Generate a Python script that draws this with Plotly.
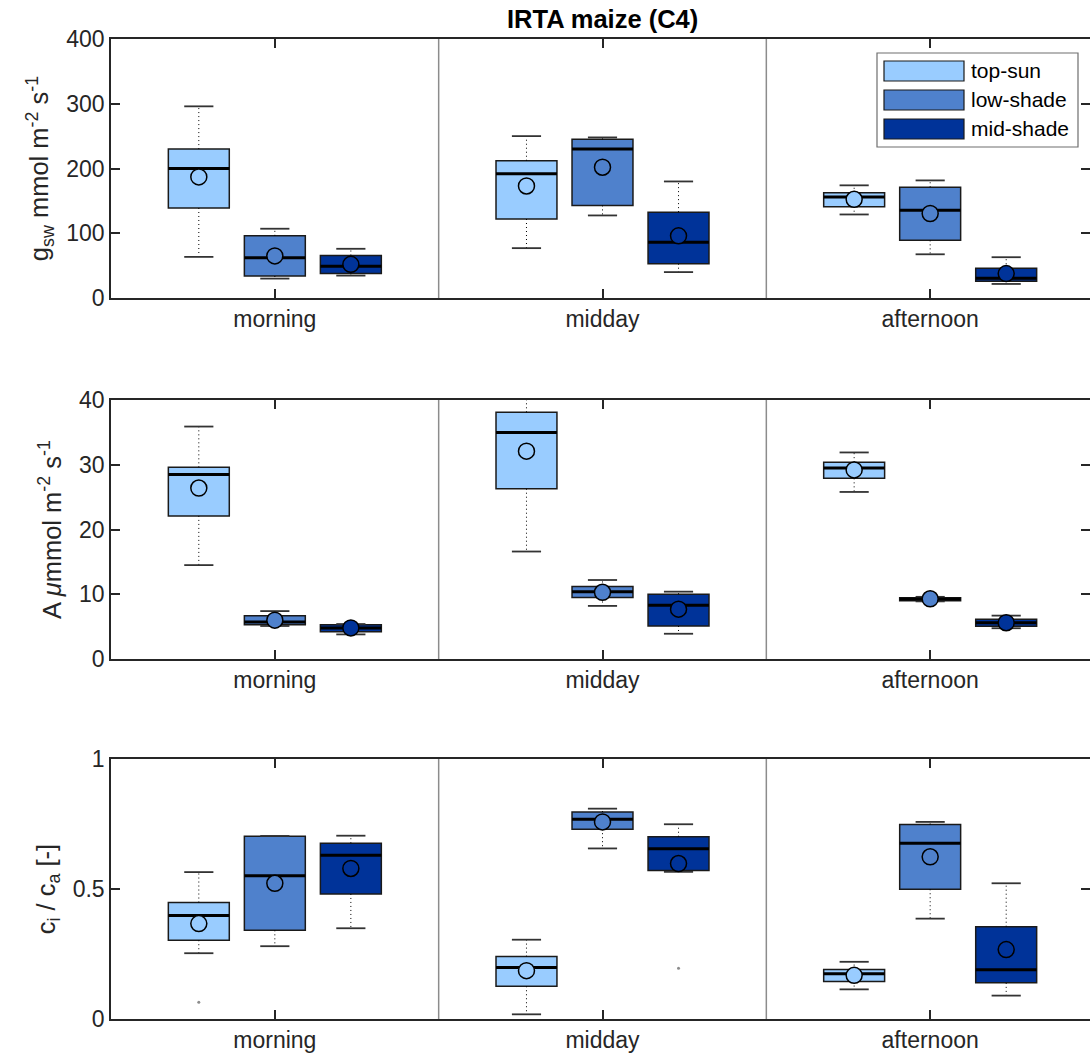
import plotly.graph_objects as go
from plotly.subplots import make_subplots

# ---------------------------------------------------------------- data
groups = ["morning", "midday", "afternoon"]
series = ["top-sun", "low-shade", "mid-shade"]
colors = ["#99CCFF", "#4F81CC", "#003399"]

# box statistics, indexed [series][time of day]
gsw_lo = [[63.5, 77, 129], [30, 127.5, 67.5], [34.6, 40, 21.7]]
gsw_q1 = [[139, 122, 141], [34, 143, 89], [38, 53, 26]]
gsw_med = [[200, 192, 156], [62, 230, 135.5], [49, 86, 30.5]]
gsw_q3 = [[230, 212, 162.5], [96, 245, 171], [65.6, 132.6, 46]]
gsw_hi = [[296, 250, 174], [107, 248, 181.6], [76, 180, 63]]
gsw_mean = [[187, 173, 152.5], [65, 202, 130.5], [52, 96, 37.7]]

A_lo = [[14.5, 16.6, 25.8], [5.1, 8.2, 8.9], [3.8, 3.9, 4.75]]
A_q1 = [[22.1, 26.3, 27.9], [5.3, 9.5, 9.0], [4.2, 5.1, 5.05]]
A_med = [[28.5, 35.0, 29.5], [5.7, 10.4, 9.25], [4.8, 8.3, 5.58]]
A_q3 = [[29.6, 38.1, 30.4], [6.67, 11.2, 9.45], [5.3, 10.0, 6.14]]
A_hi = [[35.9, 41.5, 31.9], [7.4, 12.2, 9.6], [5.4, 10.4, 6.7]]
A_mean = [[26.4, 32.1, 29.2], [6.0, 10.3, 9.3], [4.8, 7.7, 5.6]]

ci_lo = [[0.253, 0.018, 0.114], [0.280, 0.656, 0.386], [0.349, 0.566, 0.090]]
ci_q1 = [[0.303, 0.126, 0.144], [0.341, 0.730, 0.499], [0.481, 0.571, 0.139]]
ci_med = [[0.398, 0.198, 0.174], [0.551, 0.768, 0.676], [0.630, 0.655, 0.189]]
ci_q3 = [[0.448, 0.240, 0.190], [0.703, 0.796, 0.748], [0.676, 0.701, 0.355]]
ci_hi = [[0.565, 0.305, 0.220], [0.704, 0.809, 0.758], [0.705, 0.749, 0.522]]
ci_mean = [[0.367, 0.186, 0.168], [0.522, 0.758, 0.624], [0.579, 0.598, 0.267]]

# outliers: (series index, group index, value)
ci_outliers = [(0, 0, 0.064), (2, 1, 0.195)]

y_titles = [
    "g<sub>sw</sub> mmol m<sup>-2</sup> s<sup>-1</sup>",
    "A <i>μ</i>mmol m<sup>-2</sup> s<sup>-1</sup>",
    "c<sub>i</sub> / c<sub>a</sub> [-]",
]
y_ranges = [[0, 400], [0, 40], [0, 1]]
y_ticks = [[0, 100, 200, 300, 400], [0, 10, 20, 30, 40], [0, 0.5, 1]]
y_ticktext = [["0", "100", "200", "300", "400"], ["0", "10", "20", "30", "40"], ["0", "0.5", "1"]]

panels = [
    (gsw_lo, gsw_q1, gsw_med, gsw_q3, gsw_hi, gsw_mean, []),
    (A_lo, A_q1, A_med, A_q3, A_hi, A_mean, []),
    (ci_lo, ci_q1, ci_med, ci_q3, ci_hi, ci_mean, ci_outliers),
]

# ---------------------------------------------------------------- geometry
W, H = 1090, 1057
offset = 0.232      # spacing of the three boxes inside a group
box_w = 0.186
cap_w = 0.089
ink = "#262626"
font_family = "Liberation Sans, Arial, sans-serif"
tick_size = 23
label_size = 25.5

fig = make_subplots(rows=3, cols=1)

for r, (lo, q1, med, q3, hi, mean, outl) in enumerate(panels, start=1):
    for s in range(3):
        xs = [g + 1 + (s - 1) * offset for g in range(3)]

        # dotted whiskers
        wx, wy = [], []
        for i, x in enumerate(xs):
            wx += [x, x, None, x, x, None]
            wy += [q3[s][i], hi[s][i], None, q1[s][i], lo[s][i], None]
        fig.add_trace(go.Scatter(x=wx, y=wy, mode="lines", hoverinfo="skip",
                                 line=dict(color="black", width=1, dash="1px,3px"),
                                 showlegend=False), row=r, col=1)
        # whisker caps
        cx, cy = [], []
        for i, x in enumerate(xs):
            cx += [x - cap_w / 2, x + cap_w / 2, None, x - cap_w / 2, x + cap_w / 2, None]
            cy += [hi[s][i], hi[s][i], None, lo[s][i], lo[s][i], None]
        fig.add_trace(go.Scatter(x=cx, y=cy, mode="lines", hoverinfo="skip",
                                 line=dict(color="#333333", width=1.8),
                                 showlegend=False), row=r, col=1)
        # boxes
        fig.add_trace(go.Box(x=xs, q1=q1[s], median=med[s], q3=q3[s],
                             lowerfence=q1[s], upperfence=q3[s],
                             width=box_w, whiskerwidth=0,
                             fillcolor=colors[s],
                             line=dict(color="#1a1a1a", width=1.5),
                             name=series[s], showlegend=False), row=r, col=1)
        # thick median bars
        mx, my = [], []
        for i, x in enumerate(xs):
            mx += [x - box_w / 2, x + box_w / 2, None]
            my += [med[s][i], med[s][i], None]
        fig.add_trace(go.Scatter(x=mx, y=my, mode="lines", hoverinfo="skip",
                                 line=dict(color="black", width=3),
                                 showlegend=False), row=r, col=1)
        # means
        fig.add_trace(go.Scatter(x=xs, y=mean[s], mode="markers",
                                 marker=dict(symbol="circle", size=16, color=colors[s],
                                             line=dict(color="black", width=1.5)),
                                 showlegend=False), row=r, col=1)

    if outl:
        ox = [g + 1 + (s - 1) * offset for s, g, v in outl]
        oy = [v for s, g, v in outl]
        fig.add_trace(go.Scatter(x=ox, y=oy, mode="markers",
                                 marker=dict(size=3, color="#8c8c8c"),
                                 showlegend=False), row=r, col=1)

# ---------------------------------------------------------------- axes
x_left = 111 / W
x_span = 3.0 * (W - 111) / (1094 - 111)
domains_px = [(39, 298), (400, 659), (759, 1019)]

for r in range(1, 4):
    top_px, bot_px = domains_px[r - 1]
    fig.update_xaxes(row=r, col=1, domain=[x_left, 1.0], range=[0.5, 0.5 + x_span],
                     automargin=False,
                     tickvals=[1, 2, 3], ticktext=groups,
                     ticks="inside", ticklen=9, tickwidth=1.5, tickcolor=ink,
                     showline=True, linecolor=ink, linewidth=1.5, mirror="ticks",
                     showgrid=False, zeroline=False,
                     tickfont=dict(size=tick_size, color=ink, family=font_family))
    fig.update_yaxes(row=r, col=1, domain=[1 - bot_px / H, 1 - top_px / H],
                     automargin=False,
                     range=y_ranges[r - 1], tickvals=y_ticks[r - 1],
                     ticktext=y_ticktext[r - 1],
                     ticks="inside", ticklen=9, tickwidth=1.5, tickcolor=ink,
                     showline=True, linecolor=ink, linewidth=1.5, mirror="ticks",
                     showgrid=False, zeroline=False,
                     title=dict(text=y_titles[r - 1], standoff=10,
                                font=dict(size=label_size, color=ink, family=font_family)),
                     tickfont=dict(size=tick_size, color=ink, family=font_family))
    # separators between times of day
    xref = "x" if r == 1 else f"x{r}"
    yref = "y domain" if r == 1 else f"y{r} domain"
    for xb in (1.5, 2.5):
        fig.add_shape(type="line", xref=xref, yref=yref, x0=xb, x1=xb, y0=0, y1=1,
                      line=dict(color="#8c8c8c", width=1.5), layer="below")

# ---------------------------------------------------------------- legend
def px_x(p):
    return p / W

def px_y(p):
    return 1 - p / H

fig.add_shape(type="rect", xref="paper", yref="paper",
              x0=px_x(877), x1=px_x(1078), y0=px_y(147), y1=px_y(53),
              line=dict(color="#6e6e6e", width=1.2), fillcolor="white")
sw_top = [61, 90, 119]
for s in range(3):
    fig.add_shape(type="rect", xref="paper", yref="paper",
                  x0=px_x(884), x1=px_x(964), y0=px_y(sw_top[s] + 20), y1=px_y(sw_top[s]),
                  line=dict(color="#1a1a1a", width=1.2), fillcolor=colors[s])
    fig.add_annotation(xref="paper", yref="paper", x=px_x(969), y=px_y(sw_top[s] + 10),
                       xanchor="left", yanchor="middle", showarrow=False,
                       text=series[s], font=dict(size=21, color="black", family=font_family))

# title
fig.add_annotation(xref="paper", yref="paper", x=(111 + 1094) / 2 / W, y=px_y(19),
                   xanchor="center", yanchor="middle", showarrow=False,
                   text="<b>IRTA maize (C4)</b>",
                   font=dict(size=label_size, color="black", family=font_family))

fig.update_layout(width=W, height=H, margin=dict(l=0, r=0, t=0, b=0),
                  plot_bgcolor="white", paper_bgcolor="white",
                  boxmode="overlay", showlegend=False,
                  font=dict(family=font_family, color=ink))

fig.write_html("out.html")
